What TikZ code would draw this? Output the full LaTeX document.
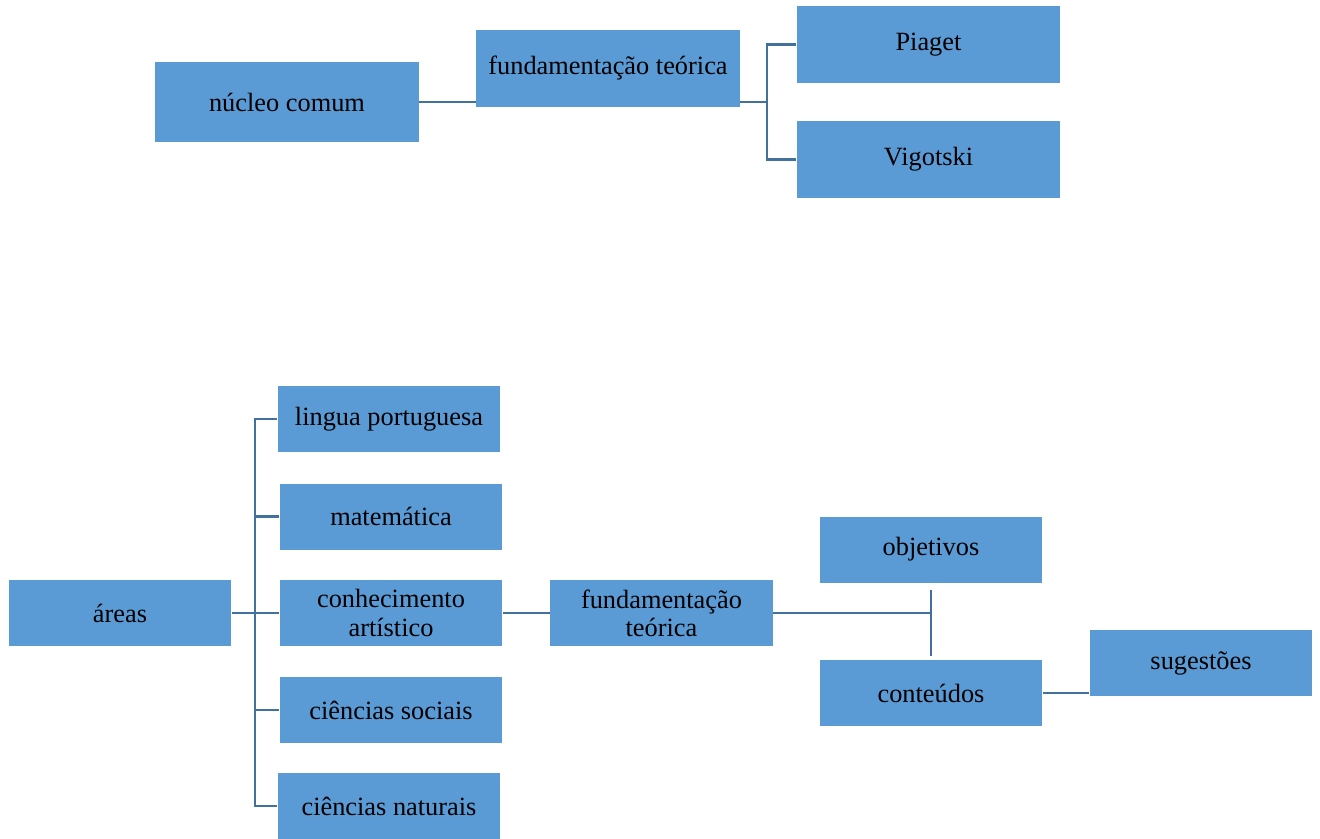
\documentclass[tikz,border=0pt]{standalone}
\usepackage{fontspec}
\setmainfont{Liberation Serif}
\usepackage{xcolor}
\usepackage{tikz}
\usetikzlibrary{positioning,calc}
\definecolor{boxBlue} {HTML}{5B9BD5}
\definecolor{linkBlue}{HTML}{41719C}

\begin{document}
\begin{tikzpicture}[x=0.02cm, y=-0.02cm,
      wide/.style={fill=boxBlue, minimum width=5.28cm, minimum height=1.56cm,
                   inner sep=0pt, align=center,
                   font=\fontsize{15}{16}\selectfont},
      slim/.style={fill=boxBlue, minimum width=4.46cm, minimum height=1.32cm,
                   inner sep=0pt, align=center,
                   font=\fontsize{15}{16}\selectfont},
      link/.style={draw=linkBlue, line width=1.4pt}]

    \useasboundingbox (0,0) rectangle (1320,839);

    % upper tree
    \node[wide, minimum height=1.6cm] (nucleo) at (287,102)   {núcleo comum};
    \node[wide] (fundA)    at (608,68.5)  {fundamentação teórica};
    \node[wide] (piaget)   at (928.5,44.5)  {Piaget};
    \node[wide] (vigotski) at (928.5,159.5) {Vigotski};

    \coordinate (jA) at (767,102);
    \draw[link] (nucleo.east) -- (nucleo.east -| fundA.west);
    \draw[link] (nucleo.east -| fundA.east) -- (jA);
    \draw[link] (piaget.west) -| (jA) |- (vigotski.west);

    % lower tree
    \node[slim] (areas)      at (120,613)   {áreas};
    \node[slim] (lingua)     at (389,419)   {lingua portuguesa};
    \node[slim] (matematica) at (391,516.5) {matemática};
    \node[slim] (artistico)  at (391,613)   {conhecimento\\artístico};
    \node[slim] (sociais)    at (391,710)   {ciências sociais};
    \node[slim] (naturais)   at (389,806)   {ciências naturais};

    \node[slim] (fundB)      at (661.5,613) {fundamentação\\teórica};
    \node[slim] (objetivos)  at (931,549.5) {objetivos};
    \node[slim] (conteudos)  at (931,693)   {conteúdos};
    \node[slim] (sugestoes)  at (1201,663)  {sugestões};

    \coordinate (jB) at (255,613);
    \draw[link] (areas.east) -- (artistico.west);
    \draw[link] (lingua.west) -| (jB) |- (naturais.west);
    \draw[link] (matematica.west) -- (matematica.west -| jB);
    \draw[link] (sociais.west) -- (sociais.west -| jB);

    \draw[link] (artistico.east) -- (fundB.west);
    \draw[link] (fundB.east) -- (fundB.east -| objetivos.south);
    \draw[link, shorten <=4pt, shorten >=2pt] (objetivos.south) -- (conteudos.north);
    \draw[link] (conteudos.east) -- (conteudos.east -| sugestoes.west);
  \end{tikzpicture}
\end{document}
